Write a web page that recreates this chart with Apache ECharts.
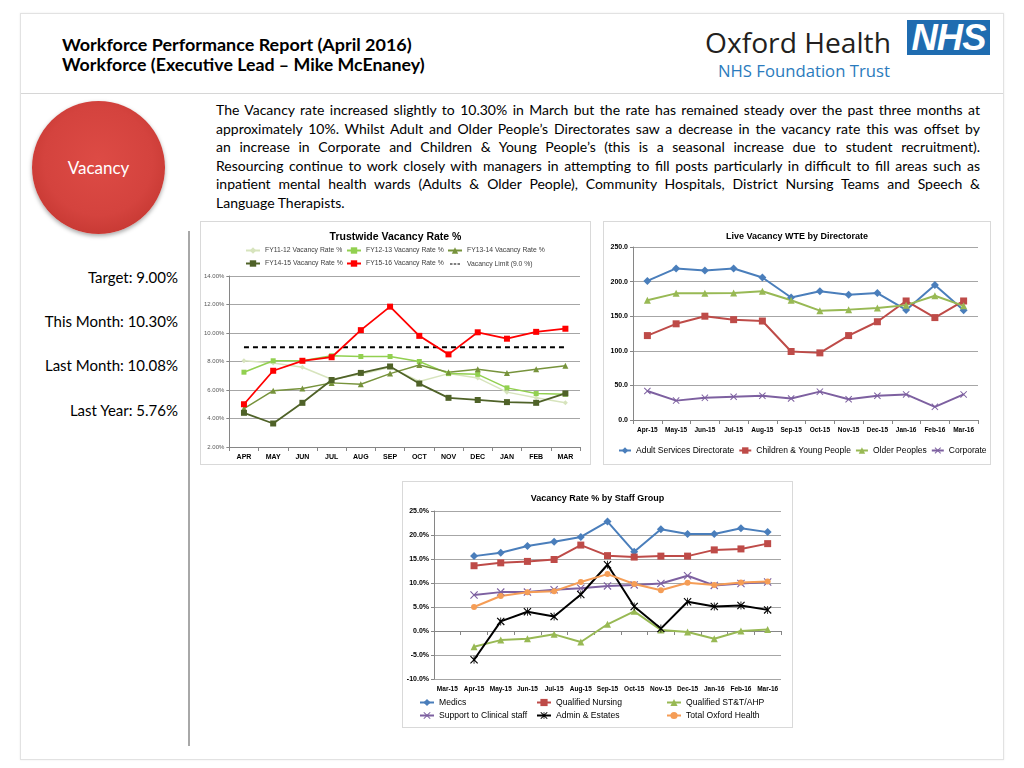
<!DOCTYPE html>
<html><head><meta charset="utf-8">
<script src="https://cdn.jsdelivr.net/npm/echarts@6/dist/echarts.min.js"></script>
<style>
body{margin:0;width:1024px;height:768px;background:#fff;position:relative;overflow:hidden;font-family:Lato,"Liberation Sans",sans-serif;color:#000}
.abs{position:absolute}
#frame{left:20px;top:13px;width:984px;height:747px;border:1px solid #e2e2e2;box-sizing:border-box;box-shadow:0 0 2px rgba(0,0,0,0.08)}
#hdrline{left:21px;top:93px;width:982px;height:0;border-top:1px solid #d6d6d6}
.h1{left:62px;font-weight:bold;font-size:16px;white-space:nowrap;line-height:20px}
.fit{white-space:nowrap;display:inline-block}
#para{left:216px;top:101px;width:764px;font-size:14px;line-height:18.5px}
#para div{white-space:nowrap;text-align:justify;text-align-last:justify;width:764px}
#para div.last{text-align-last:left}
#circle{left:32px;top:101px;width:133px;height:133px;border-radius:50%;
 background:radial-gradient(circle at 50% 45%,#dd4b45 0%,#d4433e 55%,#c2352f 85%,#a92a25 100%);
 box-shadow:0 2px 4px rgba(0,0,0,0.35);color:#fff;font-size:17px;text-align:center;line-height:133px}
#vline{left:188px;top:231px;width:2px;height:515px;background:#a8a8a8}
.stat{right:846px;font-size:15px;white-space:nowrap;line-height:18px}
.box{border:1px solid #d9d9d9;box-sizing:border-box;background:#fff}
</style></head><body>
<div id="frame" class="abs"></div>
<div id="hdrline" class="abs"></div>
<div class="abs h1" style="top:34px"><span class="fit" data-w="350">Workforce Performance Report (April 2016)</span></div>
<div class="abs h1" style="top:54px"><span class="fit" data-w="363">Workforce (Executive Lead – Mike McEnaney)</span></div>

<div class="abs" style="left:705px;top:22px;width:186px;height:38px;line-height:38px;color:#231f20;font-family:'Open Sans';font-size:31px"><span class="fit" data-w="186">Oxford Health</span></div>
<div class="abs" style="left:907px;top:20px;width:83px;height:35px;background:#1f6cb0;color:#fff;text-align:center;line-height:35px;font-family:'Liberation Sans';font-weight:bold;font-style:italic;font-size:37px;letter-spacing:-1px;overflow:hidden"><span class="fit" data-w="74">NHS</span></div>
<div class="abs" style="left:718px;top:60px;width:172px;height:22px;line-height:22px;color:#2b7bbd;font-family:'Open Sans';font-size:17px"><span class="fit" data-w="172">NHS Foundation Trust</span></div>

<div id="para" class="abs">
<div>The Vacancy rate increased slightly to 10.30% in March but the rate has remained steady over the past three months at</div>
<div>approximately 10%. Whilst Adult and Older People’s Directorates saw a decrease in the vacancy rate this was offset by</div>
<div>an increase in Corporate and Children &amp; Young People’s (this is a seasonal increase due to student recruitment).</div>
<div>Resourcing continue to work closely with managers in attempting to fill posts particularly in difficult to fill areas such as</div>
<div>inpatient mental health wards (Adults &amp; Older People), Community Hospitals, District Nursing Teams and Speech &amp;</div>
<div class="last">Language Therapists.</div>
</div>

<div id="circle" class="abs">Vacancy</div>
<div id="vline" class="abs"></div>
<div class="abs stat" style="top:268px">Target: 9.00%</div>
<div class="abs stat" style="top:312px">This Month: 10.30%</div>
<div class="abs stat" style="top:356px">Last Month: 10.08%</div>
<div class="abs stat" style="top:401px">Last Year: 5.76%</div>

<div id="c1" class="abs box" style="left:200px;top:221px;width:391px;height:244px"></div>
<div id="c2" class="abs box" style="left:603px;top:221px;width:388px;height:244px"></div>
<div id="c3" class="abs box" style="left:402px;top:481px;width:391px;height:247px"></div>

<script>
// ---------- DATA ----------
const months = ['APR','MAY','JUN','JUL','AUG','SEP','OCT','NOV','DEC','JAN','FEB','MAR'];
const fy1112 = [8.05,7.9,7.6,6.75,7.1,7.6,6.6,7.15,6.85,5.85,5.45,5.1];
const fy1213 = [7.25,8.05,8.05,8.4,8.35,8.35,8.0,7.15,7.1,6.15,5.75,5.7];
const fy1314 = [4.7,5.95,6.1,6.5,6.4,7.15,7.75,7.25,7.45,7.2,7.45,7.7];
const fy1415 = [4.4,3.65,5.1,6.7,7.2,7.65,6.45,5.45,5.3,5.15,5.1,5.76];
const fy1516 = [5.0,7.35,8.05,8.3,10.2,11.85,9.8,8.5,10.05,9.6,10.08,10.3];
const vacancyLimit = [9.0,9.0,9.0,9.0,9.0,9.0,9.0,9.0,9.0,9.0,9.0,9.0];
const trustTicks = {min:2, max:14, interval:2};

const dirMonths = ['Apr-15','May-15','Jun-15','Jul-15','Aug-15','Sep-15','Oct-15','Nov-15','Dec-15','Jan-16','Feb-16','Mar-16'];
const adultServices = [201,219,216,219,206,177,186,181,183.5,159,195,158.5];
const childrenYoung = [122,139,150,145,143,99,97,122,142,172,148,172];
const olderPeoples = [173,183,183,183.5,186,173,158,159.5,162,166,179.5,165];
const corporate = [42,28,32,33.5,35,31,41,30,35,37,19,37];
const dirTicks = {min:0, max:250, interval:50};

const staffMonths = ['Mar-15','Apr-15','May-15','Jun-15','Jul-15','Aug-15','Sep-15','Oct-15','Nov-15','Dec-15','Jan-16','Feb-16','Mar-16'];
const medics = [null,15.6,16.3,17.7,18.6,19.6,22.8,16.5,21.2,20.2,20.2,21.4,20.6];
const qualNursing = [null,13.6,14.2,14.5,14.9,17.9,15.7,15.4,15.6,15.6,16.9,17.1,18.2];
const qualSTT = [null,-3.3,-1.9,-1.6,-0.7,-2.3,1.4,4.1,0.2,-0.2,-1.6,0.0,0.3];
const supportClinical = [null,7.5,8.1,8.1,8.6,8.9,9.4,9.6,9.9,11.5,9.5,9.9,10.2];
const adminEstates = [null,-6.0,2.0,4.0,3.0,7.6,13.8,5.1,0.5,6.1,5.1,5.3,4.4];
const totalOxford = [null,5.0,7.3,8.05,8.3,10.2,11.85,9.8,8.5,10.05,9.6,10.08,10.3];
const staffTicks = {min:-10, max:25, interval:5};

// ---------- text fitting ----------
(function(){
  const p = document.getElementById('para');
  let mx = 0;
  p.querySelectorAll('div').forEach(d=>{
    const s=document.createElement('span'); s.textContent=d.textContent; s.style.whiteSpace='nowrap';
    s.style.font=getComputedStyle(d).font; document.body.appendChild(s);
    mx=Math.max(mx,s.getBoundingClientRect().width); s.remove();
  });
  if (mx>762) p.style.fontSize=(14*762/mx).toFixed(2)+'px';
  document.querySelectorAll('.fit').forEach(s=>{
    const w=+s.dataset.w, cw=s.getBoundingClientRect().width;
    const fs=parseFloat(getComputedStyle(s).fontSize);
    s.style.fontSize=(fs*w/cw).toFixed(2)+'px';
  });
})();

// ---------- charts ----------
const FF = 'Liberation Sans';
const CROSS = 'path://M2,0 L10,8 L18,0 L20,2 L12,10 L20,18 L18,20 L10,12 L2,20 L0,18 L8,10 L0,2 Z';
const STAR = 'path://M2,0 L10,8 L18,0 L20,2 L12,10 L20,18 L18,20 L10,12 L2,20 L0,18 L8,10 L0,2 Z M9,0 L11,0 L11,20 L9,20 Z';
const DASH_ICON = 'path://M0,7 H5 V9 H0 Z M7.5,7 H12.5 V9 H7.5 Z M15,7 H20 V9 H15 Z M0,0 H0.01 V16 H0 Z';

function ser(name, data, color, symbol, size, width, extra){
  return Object.assign({
    type:'line', name, data, symbol, symbolSize:size, showAllSymbol:true,
    lineStyle:{color, width}, itemStyle:{color, borderWidth:0},
    emphasis:{disabled:true}, z: 2
  }, extra||{});
}
function catAxis(data, fs){
  return {type:'category', data, boundaryGap:true,
    axisLine:{lineStyle:{color:'#868686', width:1}},
    axisTick:{show:true, length:4, lineStyle:{color:'#868686'}},
    axisLabel:{fontFamily:FF, fontSize:fs, fontWeight:'bold', color:'#000', margin:7, interval:0}};
}
function valAxis(t, fmt, fs, bold, col){
  return {type:'value', min:t.min, max:t.max, interval:t.interval,
    axisLine:{show:true, lineStyle:{color:'#868686'}},
    axisTick:{show:true, length:3, lineStyle:{color:'#868686'}},
    splitLine:{lineStyle:{color:'#a6a6a6', width:1}},
    axisLabel:{fontFamily:FF, fontSize:fs, fontWeight:bold?'bold':'normal', color:col, margin:5, formatter:fmt}};
}
function leg(opts){
  return Object.assign({orient:'vertical', padding:0, itemWidth:14, itemHeight:8, itemGap:6,
    textStyle:{fontFamily:FF, fontSize:6.8, color:'#404040'}, selectedMode:false}, opts);
}

// Chart 1
const ch1 = echarts.init(document.getElementById('c1'), null, {renderer:'canvas'});
ch1.setOption({
  animation:false,
  title:{text:'Trustwide Vacancy Rate %', left:'center', top:5, textStyle:{fontFamily:FF, fontSize:10.5, fontWeight:'bold', color:'#000'}},
  legend:[
    leg({left:44, top:25, data:['FY11-12 Vacancy Rate %','FY14-15 Vacancy Rate %']}),
    leg({left:145, top:25, data:['FY12-13 Vacancy Rate %','FY15-16 Vacancy Rate %']}),
    leg({left:246, top:25, data:['FY13-14 Vacancy Rate %',{name:'Vacancy Limit (9.0 %)', icon:DASH_ICON, itemStyle:{color:'#000'}}]})
  ],
  grid:{left:27, right:10, top:54, bottom:17},
  xAxis:catAxis(months, 7),
  yAxis:valAxis(trustTicks, v=>v.toFixed(2)+'%', 6, false, '#595959'),
  series:[
    ser('FY11-12 Vacancy Rate %', fy1112, '#d7e4bd', 'diamond', 5, 1.5),
    ser('FY12-13 Vacancy Rate %', fy1213, '#92d050', 'rect', 5, 1.5),
    ser('FY13-14 Vacancy Rate %', fy1314, '#77933c', 'triangle', 6, 1.5),
    ser('FY14-15 Vacancy Rate %', fy1415, '#4f6228', 'rect', 6, 1.8),
    ser('FY15-16 Vacancy Rate %', fy1516, '#ff0000', 'rect', 6, 1.8, {z:4}),
    ser('Vacancy Limit (9.0 %)', vacancyLimit, '#000000', 'none', 0, 1.8, {lineStyle:{color:'#000', width:1.8, type:[5,4]}})
  ]
});

// Chart 2
const ch2 = echarts.init(document.getElementById('c2'), null, {renderer:'canvas'});
ch2.setOption({
  animation:false,
  title:{text:'Live Vacancy WTE by Directorate', left:'center', top:5, textStyle:{fontFamily:FF, fontSize:9, fontWeight:'bold', color:'#000'}},
  legend:{orient:'horizontal', padding:0, left:14, top:224, itemWidth:12, itemHeight:8, itemGap:4, selectedMode:false,
    textStyle:{fontFamily:FF, fontSize:8.5, color:'#000'},
    data:['Adult Services Directorate','Children & Young People','Older Peoples','Corporate']},
  grid:{left:29, right:12, top:25, bottom:44},
  xAxis:catAxis(dirMonths, 6.5),
  yAxis:valAxis(dirTicks, v=>v.toFixed(1), 7, true, '#000'),
  series:[
    ser('Adult Services Directorate', adultServices, '#4a7ebb', 'diamond', 8, 2),
    ser('Children & Young People', childrenYoung, '#be4b48', 'rect', 7, 2),
    ser('Older Peoples', olderPeoples, '#98b954', 'triangle', 7, 2),
    ser('Corporate', corporate, '#7d60a0', CROSS, 7, 2)
  ]
});

// Chart 3
const ch3 = echarts.init(document.getElementById('c3'), null, {renderer:'canvas'});
const leg3 = o=>leg(Object.assign({itemWidth:14, itemHeight:9, itemGap:4, textStyle:{fontFamily:FF, fontSize:8.6, color:'#000'}}, o));
ch3.setOption({
  animation:false,
  title:{text:'Vacancy Rate % by Staff Group', left:'center', top:7, textStyle:{fontFamily:FF, fontSize:9, fontWeight:'bold', color:'#000'}},
  legend:[
    leg3({left:16, top:216, data:['Medics','Support to Clinical staff']}),
    leg3({left:133, top:216, data:['Qualified Nursing','Admin & Estates']}),
    leg3({left:263, top:216, data:['Qualified ST&T/AHP','Total Oxford Health']})
  ],
  grid:{left:31, right:11, top:29, bottom:48},
  xAxis:catAxis(staffMonths, 6.5),
  yAxis:valAxis(staffTicks, v=>v.toFixed(1)+'%', 7, true, '#000'),
  series:[
    ser('Medics', medics, '#4a7ebb', 'diamond', 8, 2),
    ser('Qualified Nursing', qualNursing, '#be4b48', 'rect', 7, 2),
    ser('Qualified ST&T/AHP', qualSTT, '#98b954', 'triangle', 7, 2),
    ser('Support to Clinical staff', supportClinical, '#7d60a0', CROSS, 8, 2),
    ser('Admin & Estates', adminEstates, '#000000', STAR, 8, 2),
    ser('Total Oxford Health', totalOxford, '#f59d56', 'circle', 6, 2)
  ]
});
</script>
</body></html>
